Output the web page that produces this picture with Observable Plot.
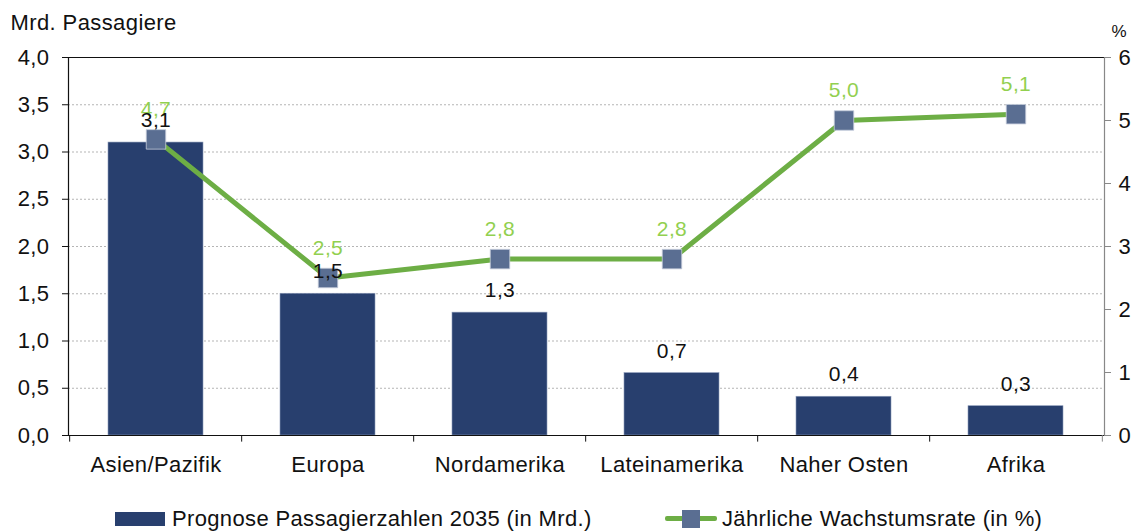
<!DOCTYPE html>
<html><head><meta charset="utf-8">
<script src="https://cdn.jsdelivr.net/npm/d3@7"></script>
<script src="https://cdn.jsdelivr.net/npm/@observablehq/plot@0.6"></script>
<style>
html,body{margin:0;padding:0;background:#fff;}
#wrap{position:relative;width:1142px;height:532px;overflow:hidden;font-family:"Liberation Sans",Arial,sans-serif;}
#chart svg text{letter-spacing:0.4px;}
#legend{position:absolute;left:0;top:505px;width:1142px;height:28px;font-family:"Liberation Sans",Arial,sans-serif;font-size:22px;letter-spacing:0.35px;color:#111;}
.li{position:absolute;top:0;display:flex;align-items:center;height:28px;white-space:nowrap;}
</style>
</head><body>
<div id="wrap"><div id="chart"></div><div id="legend"></div></div>
<script>
const categories = ["Asien/Pazifik","Europa","Nordamerika","Lateinamerika","Naher Osten","Afrika"];
const passengers = [3.1, 1.5, 1.3, 0.66, 0.41, 0.31];      // Mrd.
const growthRates = [4.7, 2.5, 2.8, 2.8, 5.0, 5.1];         // %
const leftTicks = [0,0.5,1,1.5,2,2.5,3,3.5,4];
const rightTicks = [0,1,2,3,4,5,6];
const seriesNames = ["Prognose Passagierzahlen 2035 (in Mrd.)","Jährliche Wachstumsrate (in %)"];
const axisTitles = ["Mrd. Passagiere","%"];

const data = categories.map((c,i)=>({cat:c, pax:passengers[i], rate:growthRates[i]}));
const ratio = 4/6; // right axis (0-6 %) onto left axis (0-4)
const fmt = v => v.toFixed(1).replace(".", ",");
const navy = "#283F6E", green = "#6DAE45", lightGreen = "#92D050", marker = "#5A6E92";

const W = 1142, mL = 68, mR = 38;
const step = (W - mL - mR) / categories.length;

const chart = Plot.plot({
  width: W, height: 490,
  marginLeft: mL, marginRight: mR, marginTop: 57, marginBottom: 55,
  style: {fontFamily: '"Liberation Sans", Arial, sans-serif', fontSize: "22px", color: "#111", background: "#fff"},
  x: {domain: categories, paddingInner: 0.445, paddingOuter: 0.2225, label: null},
  y: {domain: [0, 4], label: null},
  marks: [
    Plot.gridY(leftTicks.filter(t => t > 0 && t < 4), {stroke: "#b5b5b5", strokeOpacity: 1, strokeDasharray: "2,2"}),
    Plot.barY(data, {x: "cat", y: "pax", fill: navy, stroke: "#8b9ab8", strokeWidth: 0.6}),
    Plot.ruleY([4], {stroke: "#111", strokeWidth: 1.2}),
    Plot.ruleY([0], {stroke: "#111", strokeWidth: 1.2}),
    Plot.frame({anchor: "left", stroke: "#111", strokeWidth: 1.2}),
    Plot.frame({anchor: "right", stroke: "#888", strokeWidth: 1.2}),
    // category boundary ticks
    Plot.ruleX(categories, {x: d => d, dx: -step/2, y1: 0, y2: -0.07, stroke: "#111"}),
    Plot.ruleX([categories[categories.length-1]], {x: d => d, dx: step/2, y1: 0, y2: -0.07, stroke: "#888"}),
    Plot.axisY(leftTicks, {anchor: "left", tickSize: 6, tickPadding: 13, tickFormat: fmt, stroke: "#111", fontSize: 22, fill: "#111"}),
    Plot.axisY(rightTicks.map(t => t * ratio), {anchor: "right", tickSize: 6, tickPadding: 8, tickFormat: d => String(Math.round(d / ratio)), stroke: "#888", fontSize: 22, fill: "#111"}),
    Plot.axisX({tickSize: 0, tickPadding: 21, fontSize: 22, fill: "#111"}),
    Plot.line(data, {x: "cat", y: d => d.rate * ratio, stroke: green, strokeWidth: 5}),
    Plot.dot(data, {x: "cat", y: d => d.rate * ratio, symbol: "square", r: 11, fill: marker, stroke: "#c5cddc", strokeWidth: 0.8}),
    Plot.text(data, {x: "cat", y: d => d.rate * ratio, text: d => fmt(d.rate), dy: -30, fontSize: 21, fill: lightGreen}),
    Plot.text(data, {x: "cat", y: "pax", text: d => fmt(d.pax), dy: -22, fontSize: 21, fill: "#111"}),
    Plot.text([axisTitles[0]], {frameAnchor: "top-left", text: d => d, dx: -58, dy: -43, textAnchor: "start", fontSize: 22, fill: "#111"}),
    Plot.text([axisTitles[1]], {frameAnchor: "top-right", text: d => d, dx: 7, dy: -33, textAnchor: "start", fontSize: 17, fill: "#111"})
  ]
});
document.getElementById("chart").appendChild(chart);

const lg = document.getElementById("legend");
lg.innerHTML = `
<div class="li" style="left:115px"><span style="display:inline-block;width:50px;height:14px;background:${navy};margin-right:7px"></span>${seriesNames[0]}</div>
<div class="li" style="left:665px"><span style="position:relative;display:inline-block;width:52px;height:18px;margin-right:5px">
  <span style="position:absolute;left:0;top:6px;width:52px;height:5px;background:${green};border-radius:2px"></span>
  <span style="position:absolute;left:17px;top:0;width:18px;height:18px;background:${marker}"></span></span>${seriesNames[1]}</div>`;
</script>
</body></html>
